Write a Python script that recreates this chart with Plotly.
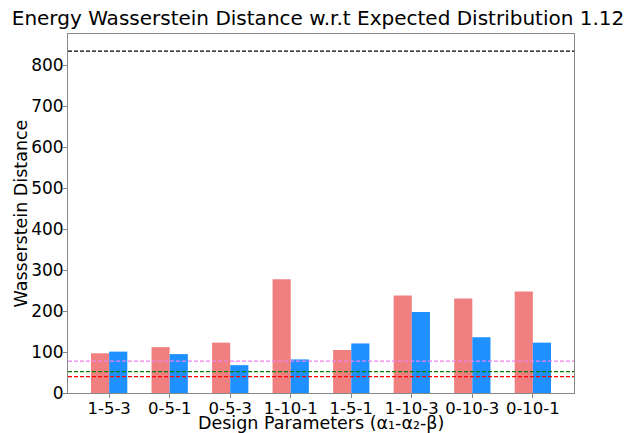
import plotly.graph_objects as go

categories = ["1-5-3", "0-5-1", "0-5-3", "1-10-1", "1-5-1", "1-10-3", "0-10-3", "0-10-1"]
series_a = [97, 112, 123, 278, 105, 238, 231, 248]
series_b = [101, 95, 68, 82, 121, 198, 136, 123]
ref_values = [835, 78, 52, 40]
ref_colors = ["black", "violet", "green", "red"]
y_ticks = [0, 100, 200, 300, 400, 500, 600, 700, 800]

x_idx = list(range(len(categories)))
W = 0.3

fig = go.Figure()
fig.add_trace(go.Bar(x=[i - W / 2 for i in x_idx], y=series_a, width=W,
                     marker=dict(color="lightcoral", line=dict(width=0)), showlegend=False))
fig.add_trace(go.Bar(x=[i + W / 2 for i in x_idx], y=series_b, width=W,
                     marker=dict(color="dodgerblue", line=dict(width=0)), showlegend=False))

for v, c in zip(ref_values, ref_colors):
    fig.add_shape(type="line", xref="paper", x0=0, x1=1, yref="y", y0=v, y1=v,
                  line=dict(color=c, width=1.2, dash="4px,2px"))

ymax = max(ref_values + series_a + series_b) * 1.05
font = "DejaVu Sans, sans-serif"

fig.add_annotation(text="Design Parameters (α₁-α₂-β)", xref="paper", yref="paper",
                   x=0.5, y=0, xanchor="center", yanchor="middle", yshift=-30,
                   showarrow=False, font=dict(size=17.5, family=font, color="black"))
fig.add_annotation(text="Wasserstein Distance", xref="paper", yref="paper",
                   x=0, y=0.5, xanchor="center", yanchor="middle", xshift=-48,
                   textangle=-90, showarrow=False, font=dict(size=17.5, family=font, color="black"))

fig.update_layout(
    width=631, height=433,
    margin=dict(l=68, r=57, t=34, b=40),
    plot_bgcolor="white", paper_bgcolor="white",
    font=dict(family=font, size=17, color="black"),
    barmode="overlay",
    title=dict(text="Energy Wasserstein Distance w.r.t Expected Distribution 1.12",
               x=0.504, xanchor="center", y=0.958, yanchor="middle",
               font=dict(size=20, family=font, color="black")),
    xaxis=dict(range=[-0.68, len(categories) - 1 + 0.68], tickvals=x_idx, ticktext=categories,
               showgrid=False, zeroline=False, showline=True, linecolor="#888", linewidth=1,
               mirror=True, ticks="", tickfont=dict(size=16.5), automargin=False,
               minor=dict(tickvals=x_idx, ticks="outside", ticklen=4, tickcolor="#888", showgrid=False)),
    yaxis=dict(range=[0, ymax], tickvals=y_ticks,
               showgrid=False, zeroline=False, showline=True, linecolor="#888", linewidth=1,
               mirror=True, ticks="", tickfont=dict(size=17), automargin=False,
               minor=dict(tickvals=y_ticks, ticks="outside", ticklen=4, tickcolor="#888", showgrid=False)),
)
fig.write_html("out.html", config={"displayModeBar": False},
               post_script="document.body.style.margin='0px';document.body.style.overflow='hidden';")
